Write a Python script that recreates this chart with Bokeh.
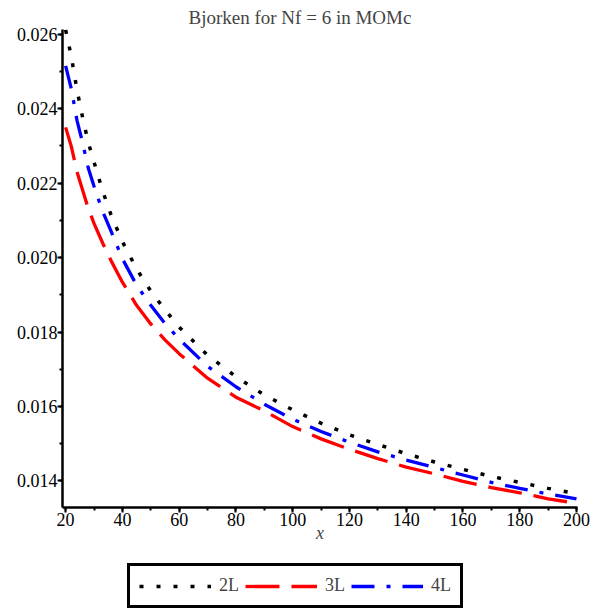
from bokeh.plotting import figure
from bokeh.layouts import column
from bokeh.models import (Legend, LegendItem, SingleIntervalTicker, PrintfTickFormatter,
                          Range1d)
from bokeh.embed import file_html
from bokeh.resources import INLINE

# Data
x_vals = [20, 22, 24, 26, 28, 30, 33, 36, 40, 45, 50, 55, 60, 70, 80, 90, 100,
          110, 120, 130, 140, 150, 160, 170, 180, 190, 200]
bj_2L = [0.02612, 0.02541, 0.02451, 0.02376, 0.02309, 0.02257, 0.02180, 0.02115,
         0.02043, 0.01970, 0.01910, 0.01860, 0.01813, 0.01738, 0.01680, 0.01631,
         0.01591, 0.01555, 0.01524, 0.01498, 0.01473, 0.01451, 0.01431, 0.01412,
         0.01396, 0.01380, 0.01366]
bj_3L = [0.02350, 0.02299, 0.02231, 0.02181, 0.02132, 0.02092, 0.02040, 0.01992,
         0.01934, 0.01872, 0.01822, 0.01779, 0.01742, 0.01676, 0.01625, 0.01588,
         0.01546, 0.01513, 0.01485, 0.01460, 0.01437, 0.01419, 0.01399, 0.01382,
         0.01368, 0.01352, 0.01340]
bj_4L = [0.02515, 0.02454, 0.02369, 0.02308, 0.02240, 0.02192, 0.02125, 0.02071,
         0.01997, 0.01926, 0.01872, 0.01823, 0.01781, 0.01708, 0.01653, 0.01606,
         0.01566, 0.01533, 0.01504, 0.01478, 0.01456, 0.01436, 0.01416, 0.01396,
         0.01380, 0.01365, 0.01352]
series_labels = ["2L", "3L", "4L"]
title_text = "Bjorken for Nf = 6 in MOMc"
x_label = "x"

FONT = "Liberation Serif"
styles = [dict(line_color="black", line_width=3.5, line_dash="4 13"),
          dict(line_color="red", line_width=3.3, line_dash="34 12"),
          dict(line_color="blue", line_width=3.3, line_dash="23 12 4 12")]
series = [bj_2L, bj_3L, bj_4L]

p = figure(width=597, height=555, output_backend="svg", toolbar_location=None,
           x_range=Range1d(18.9, 200.35), y_range=Range1d(0.013286, 0.02613),
           min_border_left=62, min_border_right=20, min_border_top=29,
           min_border_bottom=48)
p.title.text = title_text
p.title.text_font = FONT
p.title.text_font_size = "19px"
p.title.text_font_style = "normal"
p.title.align = "left"
p.title.offset = 126
p.title.standoff = 4
p.outline_line_color = None
p.xgrid.visible = False
p.ygrid.visible = False
p.background_fill_color = "white"
p.border_fill_color = "white"

for ys, st in zip(series, styles):
    p.line(x_vals, ys, **st)

p.xaxis.ticker = SingleIntervalTicker(interval=20, num_minor_ticks=2)
p.yaxis.ticker = SingleIntervalTicker(interval=0.002, num_minor_ticks=2)
p.yaxis.formatter = PrintfTickFormatter(format="%.3f")
for ax in (p.xaxis, p.yaxis):
    ax.axis_line_width = 2.5
    ax.axis_line_color = "black"
    ax.major_tick_line_width = 2
    ax.minor_tick_line_width = 2
    ax.major_tick_in = 0
    ax.major_tick_out = 5
    ax.minor_tick_in = 0
    ax.minor_tick_out = 3
    ax.major_label_text_font = FONT
    ax.major_label_text_font_size = "18px"
    ax.major_label_text_color = "black"
    ax.major_label_standoff = 0
p.xaxis.axis_label = x_label
p.xaxis.axis_label_text_font = FONT
p.xaxis.axis_label_text_font_style = "italic"
p.xaxis.axis_label_text_font_size = "18px"
p.xaxis.axis_label_standoff = -6

# legend host (its lines lie outside its ranges, only the legend shows)
q = figure(width=597, height=57, output_backend="svg", toolbar_location=None,
           x_range=Range1d(0, 1), y_range=Range1d(0, 1),
           x_axis_location=None, y_axis_location=None, min_border=0)
q.outline_line_color = None
q.xgrid.visible = False
q.ygrid.visible = False
q.border_fill_color = "white"
rs = [q.line(x_vals, ys, **st) for ys, st in zip(series, styles)]

legend = Legend(items=[LegendItem(label=lab, renderers=[r])
                       for lab, r in zip(series_labels, rs)],
                orientation="horizontal", location=(65, 4),
                border_line_color="black", border_line_width=3,
                border_line_alpha=1.0,
                glyph_width=72, glyph_height=20, label_standoff=8, spacing=6,
                padding=9, margin=0,
                label_text_font=FONT, label_text_font_size="18px")
q.add_layout(legend, "center")

layout = column(p, q, spacing=0)
open("out.html", "w").write(file_html(layout, INLINE))
